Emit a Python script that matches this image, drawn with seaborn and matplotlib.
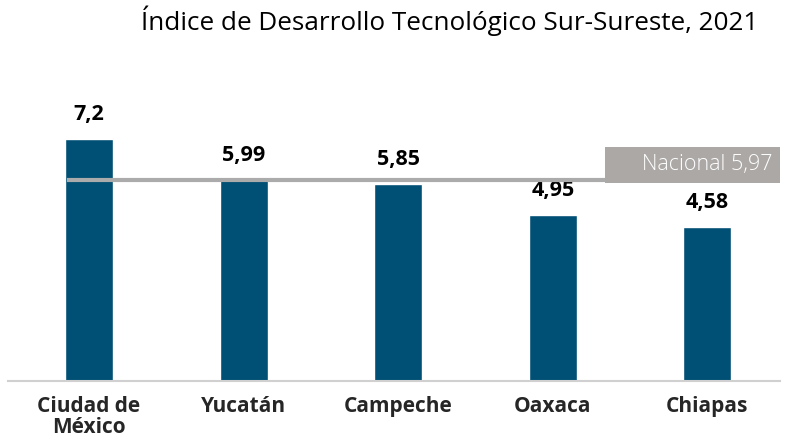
import matplotlib
matplotlib.use("Agg")
import matplotlib.pyplot as plt
from matplotlib.patches import Rectangle
import seaborn as sns
import pandas as pd

estados = ["Ciudad de\nMéxico", "Yucatán", "Campeche", "Oaxaca", "Chiapas"]
indice = [7.2, 5.99, 5.85, 4.95, 4.58]
etiquetas = ["7,2", "5,99", "5,85", "4,95", "4,58"]
nacional = 5.97
nacional_txt = "Nacional 5,97"
titulo = "Índice de Desarrollo Tecnológico Sur-Sureste, 2021"

sns.set_style("white")
plt.rcParams["font.family"] = ["Open Sans", "DejaVu Sans"]

df = pd.DataFrame({"estado": estados, "indice": indice})

fig = plt.figure(figsize=(8.01, 4.40), dpi=100)
ax = fig.add_axes([8 / 801, 1 - 381 / 440, 772 / 801, 341 / 440])

sns.barplot(df, x="estado", y="indice", color="#004F74", width=0.31,
            saturation=1, ax=ax)

for i, (v, t) in enumerate(zip(indice, etiquetas)):
    ax.text(i, v + 0.42, t, ha="center", va="bottom", fontsize=15.5,
            fontweight="bold", color="black")

# linea nacional + caja
ax.hlines(nacional, -0.14, 3.34, color="#ABABAB", lw=3, zorder=3)
ax.add_patch(Rectangle((3.34, 5.89), 1.13, 1.07, facecolor="#ABA8A6",
                       edgecolor="none", zorder=3, clip_on=False))
ax.text(4.0, 6.43, nacional_txt, ha="center", va="center", color="white",
        fontsize=15.5, fontweight="light", zorder=4)

ax.set_xlim(-0.524, 4.47)
ax.set_ylim(0, 10.15)
ax.set_xlabel("")
ax.set_ylabel("")
ax.set_yticks([])
ax.tick_params(axis="x", length=0, pad=11)
for lab in ax.get_xticklabels():
    lab.set_fontweight("bold")
    lab.set_fontsize(15)
    lab.set_linespacing(1.0)
for s in ["top", "right", "left"]:
    ax.spines[s].set_visible(False)
ax.spines["bottom"].set_color("#D0D0D0")
ax.spines["bottom"].set_linewidth(1.5)

fig.text(450 / 801, 1 - 21 / 440, titulo, ha="center", va="center",
         fontsize=18.8, color="black")

fig.savefig("out.png", dpi=100)
